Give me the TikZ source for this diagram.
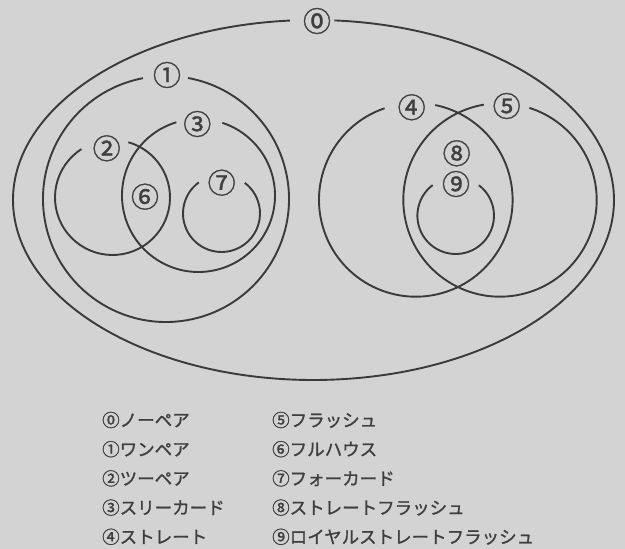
\documentclass[tikz,border=0pt]{standalone}
\usepackage{fontspec}
\setmainfont{Noto Sans CJK JP}
\newfontfamily\heavyjp[FakeBold=1.2]{Noto Sans CJK JP}
\definecolor{bgcol}{RGB}{211,211,211}
\definecolor{linecol}{RGB}{58,58,58}
\definecolor{txtcol}{RGB}{62,62,62}
\begin{document}
\begin{tikzpicture}[x=1pt,y=1pt,
  setline/.style={line width=1.9pt, draw=linecol},
  setlabel/.style={inner sep=0pt, text=txtcol, font=\heavyjp\fontsize{28}{28}\selectfont},
  legendtext/.style={anchor=west, inner sep=0pt, text=txtcol, font=\heavyjp\fontsize{17.5}{17.5}\selectfont}]
\fill[bgcol] (0,0) rectangle (625,549);
\useasboundingbox (0,0) rectangle (625,549);
% sets
\draw[setline] ([shift={(94.5:300.5pt and 180pt)}]313.5,349) arc[start angle=94.5, end angle=446, x radius=300.5pt, y radius=180pt];
\draw[setline] ([shift={(100.8:123pt)}]166,350) arc[start angle=100.8, end angle=439.7, radius=123pt];
\draw[setline] ([shift={(122.7:57.5pt)}]112.5,351.5) arc[start angle=122.7, end angle=434, radius=57.5pt];
\draw[setline] ([shift={(106.8:76.5pt)}]198.5,353.5) arc[start angle=106.8, end angle=431.8, radius=76.5pt];
\draw[setline] ([shift={(126.1:38.5pt)}]221.5,335.5) arc[start angle=126.1, end angle=412.7, radius=38.5pt];
\draw[setline] ([shift={(108.8:96.8pt)}]415.8,349.1) arc[start angle=108.8, end angle=438.4, radius=96.8pt];
\draw[setline] ([shift={(99.6:96.7pt)}]500,349) arc[start angle=99.6, end angle=432.3, radius=96.7pt];
\draw[setline] ([shift={(127:38.3pt)}]455.7,333.3) arc[start angle=127, end angle=412.7, radius=38.3pt];
% labels
\node[setlabel] (l0) at (317,528) {⓪};
\node[setlabel] (l1) at (167,474) {①};
\node[setlabel] (l2) at (106.7,400.7) {②};
\node[setlabel] (l3) at (197.3,425) {③};
\node[setlabel] (l4) at (411.7,441.7) {④};
\node[setlabel] (l5) at (506.7,443) {⑤};
\node[setlabel] (l6) at (145,352.3) {⑥};
\node[setlabel] (l7) at (221.7,366.3) {⑦};
\node[setlabel] (l8) at (456.7,395.7) {⑧};
\node[setlabel] (l9) at (456,365) {⑨};
% legend
\node[legendtext] (g0) at (102,129) {⓪ノーペア};
\node[legendtext] (g1) at (102,99.8) {①ワンペア};
\node[legendtext] (g2) at (102,70.6) {②ツーペア};
\node[legendtext] (g3) at (102,41.4) {③スリーカード};
\node[legendtext] (g4) at (102,12.2) {④ストレート};
\node[legendtext] (g5) at (272,129) {⑤フラッシュ};
\node[legendtext] (g6) at (272,99.8) {⑥フルハウス};
\node[legendtext] (g7) at (272,70.6) {⑦フォーカード};
\node[legendtext] (g8) at (272,41.4) {⑧ストレートフラッシュ};
\node[legendtext] (g9) at (272,12.2) {⑨ロイヤルストレートフラッシュ};
\end{tikzpicture}
\end{document}
